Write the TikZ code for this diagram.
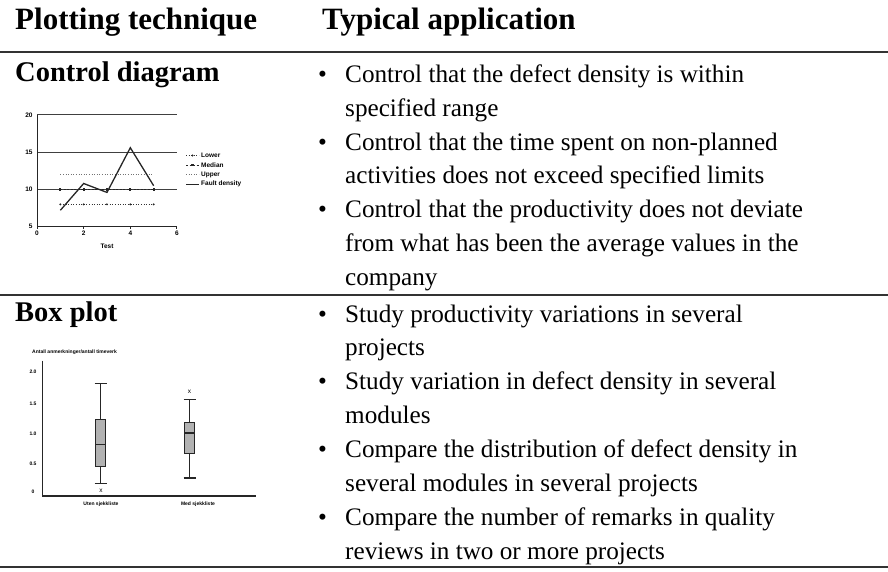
\documentclass[tikz,border=0pt]{standalone}
\usepackage{fontspec}
\setmainfont{Liberation Serif}
\newfontfamily\chartfont{Liberation Sans}
\begin{document}
\begin{tikzpicture}[x=1pt,y=-1pt,
  headtxt/.style={font=\fontsize{31}{34}\selectfont\bfseries, anchor=base west, inner sep=0},
  rowhead/.style={font=\fontsize{28.5}{34}\selectfont\bfseries, anchor=base west, inner sep=0},
  bodytxt/.style={font=\fontsize{25.2}{34}\selectfont, anchor=base west, inner sep=0},
  bul/.style={font=\fontsize{25.2}{34}\selectfont, anchor=base, inner sep=0},
  tablerule/.style={line width=2.4pt, draw=black!80},
  cticks/.style={font=\chartfont\bfseries\fontsize{6.5}{7}\selectfont, inner sep=0},
  bticks/.style={font=\chartfont\bfseries\fontsize{5}{6}\selectfont, inner sep=0},
  gridln/.style={line width=0.9pt, draw=black!75},
  axisln/.style={line width=1pt, draw=black!85},
  lowerln/.style={line width=0.6pt, dotted, draw=black!80},
  medianln/.style={line width=0.7pt, dashed, dash pattern=on 2pt off 1.5pt, draw=black!85},
  upperln/.style={line width=0.6pt, dotted, draw=black!55},
  faultln/.style={line width=1.3pt, draw=black!85},
  dotmark/.style={circle, fill=black!85, inner sep=0, minimum size=2.2pt},
  sqmark/.style={rectangle, fill=black!85, inner sep=0, minimum size=2.2pt},
  boxfill/.style={fill=black!30, draw=black!85, line width=0.9pt},
  whisk/.style={line width=1.1pt, draw=black!85}
]
\useasboundingbox (0,0) rectangle (888,572);

% ---- table header and rules ----
\node[headtxt] (h1) at (15,29.5) {Plotting technique};
\node[headtxt] (h2) at (322,29.5) {Typical application};
\draw[tablerule] (0,52) -- (888,52);
\draw[tablerule] (0,295) -- (888,295);
\draw[tablerule] (0,567) -- (888,567);

% ---- row 1: control diagram ----
\node[rowhead] (r1) at (15,82) {Control diagram};
\node[bul] (b1) at (322.5,83) {\textbullet};
\node[bodytxt] (t1) at (345,83) {Control that the defect density is within};
\node[bodytxt] (t2) at (345,116.7) {specified range};
\node[bul] (b2) at (322.5,150.3) {\textbullet};
\node[bodytxt] (t3) at (345,150.3) {Control that the time spent on non-planned};
\node[bodytxt] (t4) at (345,184) {activities does not exceed specified limits};
\node[bul] (b3) at (322.5,217.7) {\textbullet};
\node[bodytxt] (t5) at (345,217.7) {Control that the productivity does not deviate};
\node[bodytxt] (t6) at (345,251.3) {from what has been the average values in the};
\node[bodytxt] (t7) at (345,285) {company};

% ---- row 2: box plot ----
\node[rowhead] (r2) at (15,321) {Box plot};
\node[bul] (b4) at (322.5,322) {\textbullet};
\node[bodytxt] (u1) at (345,322) {Study productivity variations in several};
\node[bodytxt] (u2) at (345,355.9) {projects};
\node[bul] (b5) at (322.5,389.8) {\textbullet};
\node[bodytxt] (u3) at (345,389.8) {Study variation in defect density in several};
\node[bodytxt] (u4) at (345,423.7) {modules};
\node[bul] (b6) at (322.5,457.6) {\textbullet};
\node[bodytxt] (u5) at (345,457.6) {Compare the distribution of defect density in};
\node[bodytxt] (u6) at (345,491.5) {several modules in several projects};
\node[bul] (b7) at (322.5,525.4) {\textbullet};
\node[bodytxt] (u7) at (345,525.4) {Compare the number of remarks in quality};
\node[bodytxt] (u8) at (345,559.3) {reviews in two or more projects};

% ---- control chart (data units: test number, value - 5) ----
\begin{scope}[shift={(37,226.7)}, x=23.33pt, y=7.45pt]
  \draw[gridln] (0,15) -- (6,15);
  \draw[gridln] (0,10) -- (6,10);
  \draw[gridln] (0,5) -- (6,5);
  \draw[axisln] (0,15) -- (0,0) -- (6,0);
  \foreach \t in {0,2,4,6} \draw[axisln] (\t,0) -- (\t,-0.35);
  \foreach \v/\lab in {15/20,10/15,5/10,0/5}
    \node[cticks, anchor=east] (yl\lab) at (-0.18,\v) {\lab};
  \foreach \t in {0,2,4,6}
    \node[cticks, anchor=north] (xl\t) at (\t,-0.6) {\t};
  \node[cticks, anchor=north] (xtitle) at (3,-2.3) {Test};
  % lower limit
  \draw[lowerln] (1,3) -- (5,3);
  \foreach \t in {1,...,5} \node[dotmark] (lo\t) at (\t,3) {};
  % median
  \draw[medianln] (1,5) -- (5,5);
  \foreach \t in {1,...,5} \node[sqmark] (me\t) at (\t,5) {};
  % upper limit
  \draw[upperln] (1,7) -- (5,7);
  % fault density
  \draw[faultln] (1,2.2) -- (2,5.8) -- (3,4.6) -- (4,10.6) -- (5,5.5);
\end{scope}

% legend
\draw[lowerln] (186,155.5) -- (199,155.5);
\node[dotmark] (lgd1) at (192.5,155.5) {};
\node[cticks, anchor=west] (lg1) at (201,155.5) {Lower};
\draw[medianln] (186,165) -- (199,165);
\node[sqmark] (lgd2) at (192.5,165) {};
\node[cticks, anchor=west] (lg2) at (201,165) {Median};
\draw[upperln] (186,174.5) -- (199,174.5);
\node[cticks, anchor=west] (lg3) at (201,174.5) {Upper};
\draw[faultln, line width=0.9pt] (186,184) -- (199,184);
\node[cticks, anchor=west] (lg4) at (201,184) {Fault density};

% ---- box plot ----
\node[bticks, anchor=west] (btitle) at (32,352) {Antall anmerkninger/antall timeverk};
\draw[axisln, line width=1.2pt] (42.7,360.7) -- (42.7,496) -- (256,496);
\foreach \y/\lab in {372/2.0,404/1.5,434/1.0,464/0.5,492/0}
  \node[bticks] (by\lab) at (33,\y) {\lab};
% first group
\draw[whisk] (100.7,383.3) -- (100.7,419);
\draw[whisk] (100.7,466.7) -- (100.7,483.3);
\draw[whisk] (94.7,383.3) -- (106.7,383.3);
\draw[whisk] (94.7,483.3) -- (106.7,483.3);
\draw[boxfill] (95.7,419) rectangle (105.7,466.7);
\draw[whisk] (95.7,444.3) -- (105.7,444.3);
\node[bticks, font=\chartfont\fontsize{6.5}{7}\selectfont] (ox1) at (101,490.5) {x};
% second group
\draw[whisk] (189.7,399.3) -- (189.7,422.7);
\draw[whisk] (189.7,453.3) -- (189.7,478);
\draw[whisk] (183.7,399.3) -- (195.7,399.3);
\draw[whisk] (183.7,478) -- (195.7,478);
\draw[boxfill] (184.7,422.7) rectangle (194.7,453.3);
\draw[whisk] (184.7,433) -- (194.7,433);
\node[bticks, font=\chartfont\fontsize{6.5}{7}\selectfont] (ox2) at (189.5,392) {x};
\node[bticks] (cat1) at (101,504) {Uten sjekkliste};
\node[bticks] (cat2) at (198,504) {Med sjekkliste};
\end{tikzpicture}
\end{document}
